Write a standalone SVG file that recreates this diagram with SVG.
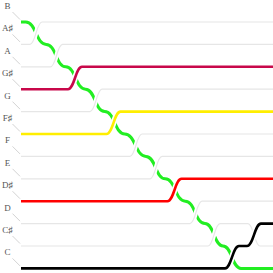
<svg xmlns="http://www.w3.org/2000/svg" xmlns:xlink="http://www.w3.org/1999/xlink" width="273" height="273" viewBox="0 0 273 273">
<style>
.lbl{font-family:"Liberation Serif","DejaVu Serif",serif;font-size:9px;fill:#555;text-anchor:middle}
.tick{stroke:#c8c8c8;stroke-width:0.8;fill:none}
.ln{fill:none;stroke-linecap:butt;stroke-linejoin:round}
.halo-g{fill:none;stroke:#fff;stroke-width:4.5}
.halo-c{fill:none;stroke:#fff;stroke-width:6}
.gray{stroke:#e6e6e6;stroke-width:1.2}
.col{stroke-width:2.6}
.green{stroke:#22ee22;stroke-width:3}
</style>
<defs>
<path id="pAs" d="M21,44.4 H30 C35.4,44.4 36.6,22 42,22 H273"/>
<path id="pA" d="M21,66.8 H50.5 C55.9,66.8 57.1,44.4 62.5,44.4 H273"/>
<path id="pG" d="M21,111.6 H90 C95.4,111.6 96.6,89.2 102,89.2 H273"/>
<path id="pF" d="M21,156.4 H130 C135.4,156.4 136.6,134 142,134 H273"/>
<path id="pE" d="M21,178.8 H150 C155.4,178.8 156.6,156.4 162,156.4 H273"/>
<path id="pD" d="M21,223.6 H190 C195.4,223.6 196.6,201.2 202,201.2 H273"/>
<path id="pCs" d="M21,246 H208 C213.4,246 214.6,223.6 220,223.6 H248 C253.4,223.6 254.6,246 260,246 H273"/>
<path id="pGs" d="M21,89.2 H68 C74.3,89.2 75.7,66.8 82,66.8 H273"/>
<path id="pFs" d="M21,134 H106.5 C112.8,134 114.2,111.6 120.5,111.6 H273"/>
<path id="pDs" d="M21,201.2 H167.5 C173.8,201.2 175.2,178.8 181.5,178.8 H273"/>
<path id="pC" d="M21,268.4 H225 C231.3,268.4 232.7,246 239,246 H247 C253.3,246 254.7,223.6 261,223.6 H273"/>
</defs>
<g id="labels">
<g id="lane-B"><text class="lbl" x="7.5" y="9">B</text><line class="tick" x1="12.5" y1="12" x2="20" y2="19.5"/></g>
<g id="lane-As"><text class="lbl" x="7.5" y="31.4">A♯</text><line class="tick" x1="12.5" y1="34.4" x2="20" y2="41.9"/></g>
<g id="lane-A"><text class="lbl" x="7.5" y="53.8">A</text><line class="tick" x1="12.5" y1="56.8" x2="20" y2="64.3"/></g>
<g id="lane-Gs"><text class="lbl" x="7.5" y="76.2">G♯</text><line class="tick" x1="12.5" y1="79.2" x2="20" y2="86.7"/></g>
<g id="lane-G"><text class="lbl" x="7.5" y="98.6">G</text><line class="tick" x1="12.5" y1="101.6" x2="20" y2="109.1"/></g>
<g id="lane-Fs"><text class="lbl" x="7.5" y="121">F♯</text><line class="tick" x1="12.5" y1="124" x2="20" y2="131.5"/></g>
<g id="lane-F"><text class="lbl" x="7.5" y="143.4">F</text><line class="tick" x1="12.5" y1="146.4" x2="20" y2="153.9"/></g>
<g id="lane-E"><text class="lbl" x="7.5" y="165.8">E</text><line class="tick" x1="12.5" y1="168.8" x2="20" y2="176.3"/></g>
<g id="lane-Ds"><text class="lbl" x="7.5" y="188.2">D♯</text><line class="tick" x1="12.5" y1="191.2" x2="20" y2="198.7"/></g>
<g id="lane-D"><text class="lbl" x="7.5" y="210.6">D</text><line class="tick" x1="12.5" y1="213.6" x2="20" y2="221.1"/></g>
<g id="lane-Cs"><text class="lbl" x="7.5" y="233">C♯</text><line class="tick" x1="12.5" y1="236" x2="20" y2="243.5"/></g>
<g id="lane-C"><text class="lbl" x="7.5" y="255.4">C</text><line class="tick" x1="12.5" y1="258.4" x2="20" y2="265.9"/></g>
</g>
<g id="connectors">
<path id="green" class="ln green" d="M21,22 H25.75 C36,22 36,44.4 46.25,44.4 C56,44.4 56,66.8 65.75,66.8 C75.6,66.8 75.6,89.2 85.5,89.2 C95.1,89.2 95.1,111.6 104.75,111.6 C114.75,111.6 114.75,134 124.75,134 C135.4,134 135.4,156.4 146,156.4 C155.6,156.4 155.6,178.8 165.25,178.8 C175.25,178.8 175.25,201.2 185.25,201.2 C195.1,201.2 195.1,223.6 205,223.6 C214,223.6 214,246 223,246 C232,246 232,268.4 241,268.4 H273"/>
<g id="gray-lines">
<use href="#pAs" class="halo-g"/><use href="#pAs" class="ln gray"/>
<use href="#pA" class="halo-g"/><use href="#pA" class="ln gray"/>
<use href="#pG" class="halo-g"/><use href="#pG" class="ln gray"/>
<use href="#pF" class="halo-g"/><use href="#pF" class="ln gray"/>
<use href="#pE" class="halo-g"/><use href="#pE" class="ln gray"/>
<use href="#pD" class="halo-g"/><use href="#pD" class="ln gray"/>
<use href="#pCs" class="halo-g"/><use href="#pCs" class="ln gray"/>
</g>
<g id="colored-lines">
<use href="#pGs" class="halo-c"/><use href="#pGs" class="ln col" stroke="#c8084a"/>
<use href="#pFs" class="halo-c"/><use href="#pFs" class="ln col" stroke="#ffee00"/>
<use href="#pDs" class="halo-c"/><use href="#pDs" class="ln col" stroke="#ff0000"/>
<use href="#pC" class="halo-c"/><use href="#pC" class="ln col" stroke="#000000"/>
</g>
</g>
</svg>
